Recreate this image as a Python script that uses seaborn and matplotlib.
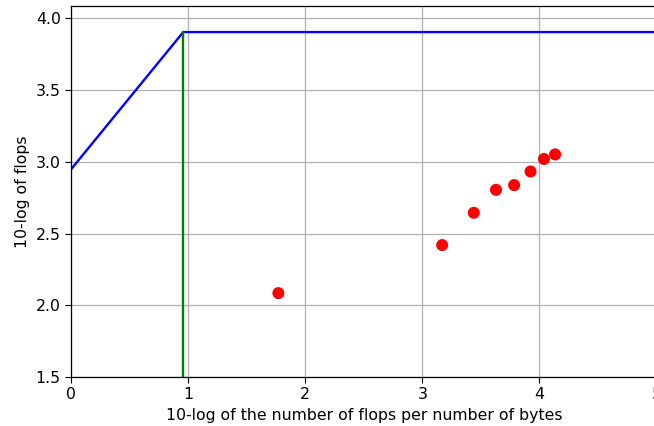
import matplotlib
matplotlib.use("Agg")
import matplotlib.pyplot as plt
import seaborn as sns
import pandas as pd

# Roofline (ceiling) data
roof_x = [0.0, 0.957, 5.0]
roof_y = [2.95, 3.905, 3.905]
# Ridge point vertical line
ridge_x = [0.957, 0.957]
ridge_y = [1.5, 3.905]
# Measured points
intensity = [1.77, 3.17, 3.44, 3.63, 3.785, 3.925, 4.04, 4.135]
perf = [2.085, 2.42, 2.645, 2.805, 2.838, 2.933, 3.02, 3.052]

fs = 11.3
plt.rcParams.update({
    "font.size": fs,
    "xtick.labelsize": fs,
    "ytick.labelsize": fs,
    "axes.labelsize": fs,
    "xtick.major.size": 4,
    "ytick.major.size": 4,
    "axes.linewidth": 0.9,
})

fig = plt.figure(figsize=(6.54, 4.26), dpi=100)
ax = fig.add_axes([0.109, 0.115, 0.8945, 0.872])

sns.lineplot(x=roof_x, y=roof_y, ax=ax, color="blue", sort=False, estimator=None, linewidth=1.7)
sns.lineplot(x=ridge_x, y=ridge_y, ax=ax, color="green", sort=False, estimator=None, linewidth=1.7)
sns.scatterplot(x=intensity, y=perf, ax=ax, color="red", s=75, edgecolor="none", zorder=3)

ax.set_xlim(0, 5)
ax.set_ylim(1.5, 4.09)
ax.set_xticks([0, 1, 2, 3, 4, 5])
ax.set_yticks([1.5, 2.0, 2.5, 3.0, 3.5, 4.0])
ax.grid(True, color="#b0b0b0", linewidth=0.9)
ax.set_axisbelow(True)
ax.set_xlabel("10-log of the number of flops per number of bytes")
ax.set_ylabel("10-log of flops")

fig.savefig("out.png", dpi=100)
